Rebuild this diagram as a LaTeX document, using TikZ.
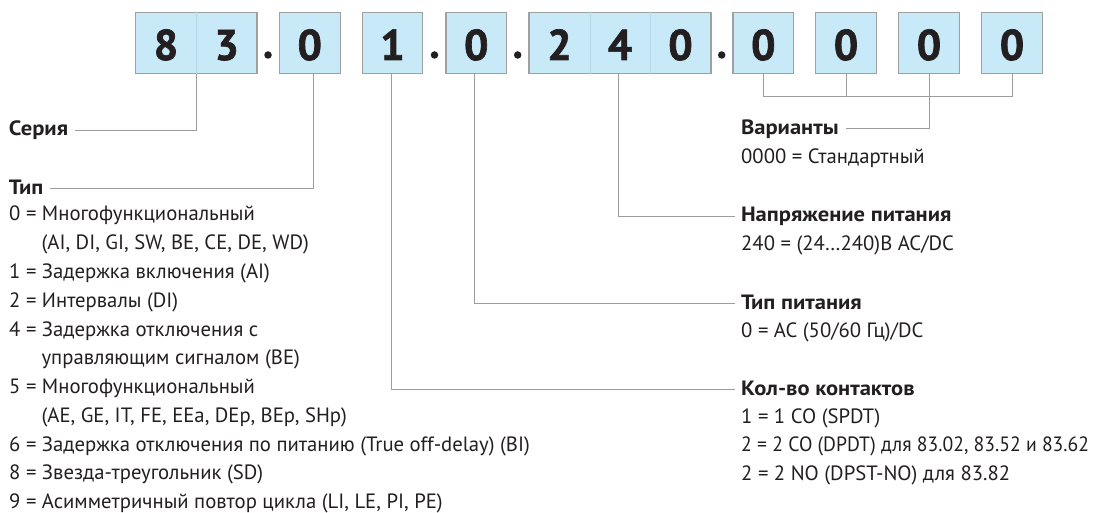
\documentclass[tikz,border=0pt]{standalone}
\usepackage{fontspec}
\setmainfont{PT Sans}
\newfontfamily\headfont{PT Sans}[BoldFeatures={FakeStretch=1.09}]
\newfontfamily\digitfont{PT Sans}[BoldFeatures={FakeBold=1.6}]
\newfontfamily\narrowfont{PT Sans}[FakeStretch=0.95]
\definecolor{boxfill}{HTML}{C8E9F8}
\definecolor{boxline}{HTML}{A0A0A0}
\definecolor{cellline}{HTML}{B4D6E5}
\definecolor{conn}{HTML}{9C9C9C}
\definecolor{ink}{HTML}{231F20}
\tikzset{
  codebox/.style={draw=boxline, fill=boxfill, line width=1.2pt, minimum height=61pt, inner sep=0pt},
  digit/.style={anchor=base, inner sep=0pt, font=\digitfont\fontsize{43}{43}\selectfont\bfseries, text=ink},
  sepdot/.style={circle, fill=ink, minimum size=7.5pt, inner sep=0pt},
  wire/.style={draw=conn, line width=0.9pt},
  txt/.style={anchor=west, inner sep=0pt, text height=12pt, text depth=0pt, font=\fontsize{20.7}{22}\selectfont, text=ink},
  head/.style={txt, font=\headfont\fontsize{20.7}{22}\selectfont\bfseries},
}
\begin{document}
\begin{tikzpicture}[x=1pt,y=-1pt]
\useasboundingbox (0,0) rectangle (1101,513);
% code boxes
\node[codebox, minimum width=121.3pt] (b83) at (196.35,43.3) {};
\node[codebox, minimum width=60.7pt] (bT) at (309.75,43.3) {};
\node[codebox, minimum width=60.7pt] (bC) at (392.5,43.3) {};
\node[codebox, minimum width=60.7pt] (bP) at (476.25,43.3) {};
\node[codebox, minimum width=182pt] (bV) at (620,43.3) {};
\node[codebox, minimum width=60.7pt] (v1) at (763.3,43.3) {};
\node[codebox, minimum width=60.7pt] (v2) at (846,43.3) {};
\node[codebox, minimum width=60.7pt] (v3) at (929,43.3) {};
\node[codebox, minimum width=60.7pt] (v4) at (1012,43.3) {};
% cell dividers
\draw[cellline, line width=0.8pt] (b83.north) -- (b83.south);
\draw[cellline, line width=0.8pt] ([xshift=-30pt]bV.north) -- ([xshift=-30pt]bV.south);
\draw[cellline, line width=0.8pt] ([xshift=30.5pt]bV.north) -- ([xshift=30.5pt]bV.south);
% digits
\node[digit] (d8) at (166,60) {8};
\node[digit] (d3) at (226.7,60) {3};
\node[digit] (dT) at (309.75,60) {0};
\node[digit] (dC) at (392.5,60) {1};
\node[digit] (dP) at (476.25,60) {0};
\node[digit] (d2) at (559.5,60) {2};
\node[digit] (d4) at (620,60) {4};
\node[digit] (d0) at (680.5,60) {0};
\node[digit] (dv1) at (763.3,60) {0};
\node[digit] (dv2) at (846,60) {0};
\node[digit] (dv3) at (929,60) {0};
\node[digit] (dv4) at (1012,60) {0};
% separator dots
\node[sepdot] (p1) at (268,55) {};
\node[sepdot] (p2) at (434.5,55) {};
\node[sepdot] (p3) at (517.7,55) {};
\node[sepdot] (p4) at (721.7,55) {};
% left labels
\node[head, outer xsep=7pt] (lSer) at (2,130) {Серия};
\node[head, outer xsep=7pt] (lTip) at (2,188.3) {Тип};
\node[txt] (t0) at (9,215) {0 = Многофункциональный};
\node[txt] (t0b) at (41.4,243.8) {(AI, DI, GI, SW, BE, CE, DE, WD)};
\node[txt] (t1) at (9,272.5) {1 = Задержка включения (AI)};
\node[txt] (t2) at (9,301.3) {2 = Интервалы (DI)};
\node[txt] (t4) at (9,330.1) {4 = Задержка отключения с};
\node[txt] (t4b) at (41.4,358.9) {управляющим сигналом (BE)};
\node[txt] (t5) at (9,387.6) {5 = Многофункциональный};
\node[txt] (t5b) at (41.4,416.4) {(AE, GE, IT, FE, EEa, DEp, BEp, SHp)};
\node[txt] (t6) at (9,445.2) {6 = Задержка отключения по питанию (True off-delay) (BI)};
\node[txt] (t8) at (9,473.9) {8 = Звезда-треугольник (SD)};
\node[txt] (t9) at (9,502.7) {9 = Асимметричный повтор цикла (LI, LE, PI, PE)};
% right labels
\node[head, outer xsep=7pt] (lVar) at (734,128.3) {Варианты};
\node[txt] (var0) at (741,157.3) {0000 = Стандартный};
\node[head, outer xsep=6pt] (lVolt) at (735,216) {Напряжение питания};
\node[txt] (volt0) at (741,244.5) {240 = (24…240)В AC/DC};
\node[head, outer xsep=6pt] (lPow) at (735,303.3) {Тип питания};
\node[txt] (pow0) at (741,331.5) {0 = AC (50/60 Гц)/DC};
\node[head, outer xsep=6pt] (lCon) at (735,389.3) {Кол-во контактов};
\node[txt] (con1) at (741,417.3) {1 = 1 CO (SPDT)};
\node[txt, font=\narrowfont\fontsize{20.7}{22}\selectfont] (con2) at (741,445.8) {2 = 2 CO (DPDT) для 83.02, 83.52 и 83.62};
\node[txt] (con3) at (741,474.3) {2 = 2 NO (DPST-NO) для 83.82};
% connectors
\draw[wire] (b83.south) |- (lSer.east);
\draw[wire] ([xshift=4pt]bT.south) |- (lTip.east);
\draw[wire] ([xshift=-0.8pt]bC.south) |- (lCon.west);
\draw[wire] ([xshift=-2pt]bP.south) |- (lPow.west);
\draw[wire] ([xshift=-1.3pt]bV.south) |- (lVolt.west);
\coordinate (vbar) at (0,96);
\draw[wire] (v1.south) -- (v1.south |- vbar) -- (v4.south |- vbar) -- (v4.south);
\draw[wire] (v2.south) -- (v2.south |- vbar);
\draw[wire] (v3.south) |- (lVar.east);
\end{tikzpicture}
\end{document}
